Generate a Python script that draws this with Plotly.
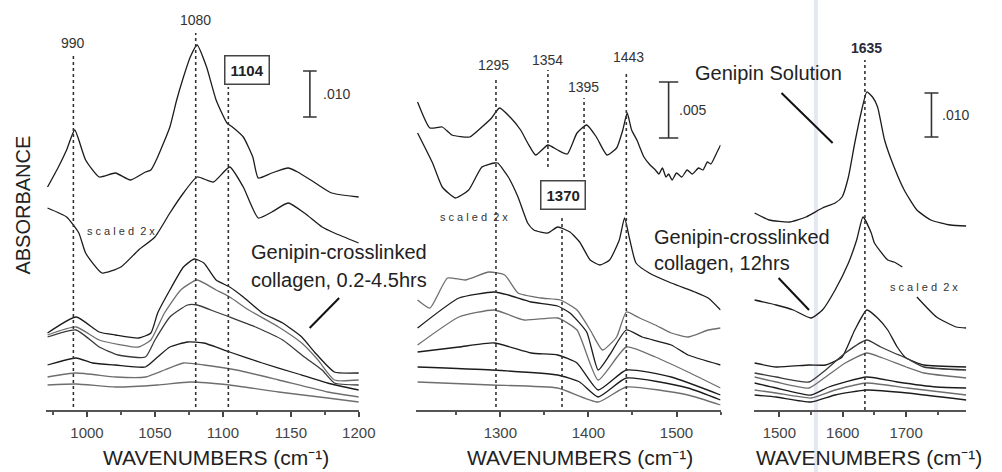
import plotly.graph_objects as go

W, H = 1002, 472
FONT = "Liberation Sans, Arial, sans-serif"

# ---------------- Panel 1 (970-1200 cm-1) ----------------
p1_wn_sol = [971,979,985,991,999,1009,1021,1032,1043,1047,1052,1061,1066,1071,1076,1081,1088,1095,1103,1107,1115,1122,1126,1136,1148,1155,1168,1180,1200]
p1_sol    = [223,243,260,280,250,233,237,230,238,240,253,283,310,333,353,365,343,310,287,283,273,253,232,237,242,238,227,217,213]
p1_wn_12h = [971,985,994,999,1011,1025,1038,1050,1061,1071,1081,1093,1105,1115,1126,1136,1148,1160,1173,1182,1200]
p1_12h    = [202,193,177,157,137,143,160,173,197,217,233,228,243,223,192,198,207,197,183,177,167]
p1_wn_a = [971,992,1009,1021,1038,1047,1052,1061,1071,1079,1086,1095,1105,1115,1129,1144,1158,1168,1182,1200]
p1_a    = [77,93,78,75,72,77,97,120,143,151,147,130,123,113,97,87,73,57,38,37]
p1_wn_b = [971,992,1009,1038,1047,1057,1069,1081,1095,1105,1119,1141,1158,1170,1182,1200]
p1_b    = [75,83,70,63,70,97,120,130,120,113,100,83,67,50,30,30]
p1_wn_c = [971,992,1009,1023,1043,1050,1061,1074,1081,1095,1105,1124,1144,1160,1173,1182,1200]
p1_c    = [73,80,63,55,53,70,93,105,105,98,93,83,70,53,40,27,25]
p1_wn_d = [971,992,1004,1021,1043,1052,1061,1074,1086,1105,1129,1153,1177,1200]
p1_d    = [45,52,47,45,43,53,63,68,67,58,47,37,27,20]
p1_wn_e = [971,992,1021,1043,1057,1071,1086,1110,1141,1177,1200]
p1_e    = [33,37,33,33,40,47,45,40,30,18,13]
p1_wn_f = [971,992,1021,1052,1076,1105,1141,1177,1200]
p1_f    = [25,26,23,25,28,25,18,12,8]
p1_peaks = [990, 1080, 1104]

# ---------------- Panel 2 (1204-1550 cm-1) ----------------
p2_wn_sol = [1206,1220,1234,1245,1265,1279,1290,1299,1312,1323,1331,1340,1354,1365,1376,1387,1398,1409,1421,1432,1439,1444,1449,1455,1463,1470,1476,1480,1484,1488,1491,1495,1500,1506,1512,1518,1525,1530,1535,1539,1545,1550]
p2_sol    = [308,282,283,275,273,283,292,302,292,280,267,255,265,260,256,277,285,273,255,262,280,297,280,270,253,245,240,236,242,233,236,230,237,233,240,236,242,240,248,246,256,265]
p2_wn_12h = [1206,1223,1234,1249,1264,1279,1293,1297,1309,1320,1331,1338,1354,1365,1379,1390,1402,1413,1424,1435,1441,1447,1454,1469,1494,1521,1536,1550]
p2_12h    = [277,247,223,212,220,243,247,247,233,213,187,180,177,183,178,168,150,145,150,170,192,170,147,137,127,118,112,100]
p2_wn_a = [1206,1220,1240,1260,1287,1305,1320,1346,1368,1387,1402,1416,1432,1443,1458,1476,1494,1513,1536,1550]
p2_a    = [110,102,132,130,138,135,117,112,110,100,80,60,73,98,92,85,77,73,80,82]
p2_wn_b = [1206,1253,1293,1309,1335,1365,1379,1398,1411,1424,1443,1461,1494,1513,1550]
p2_b    = [82,112,118,115,108,104,97,78,40,55,80,73,65,55,45]
p2_wn_c = [1206,1253,1293,1327,1365,1387,1411,1443,1476,1513,1550]
p2_c    = [65,93,100,90,92,80,30,63,53,38,22]
p2_wn_d = [1206,1253,1293,1335,1365,1387,1411,1443,1494,1550]
p2_d    = [58,63,67,57,55,47,20,40,33,15]
p2_wn_e = [1206,1290,1365,1390,1411,1443,1513,1550]
p2_e    = [43,40,35,28,13,32,22,10]
p2_wn_f = [1206,1290,1365,1411,1443,1513,1550]
p2_f    = [28,25,22,8,23,15,5]

# ---------------- Panel 3 (1460-1795 cm-1) ----------------
p3_wn_sol = [1461,1484,1516,1542,1568,1588,1599,1609,1619,1630,1638,1647,1655,1666,1681,1697,1717,1739,1770,1795]
p3_sol    = [197,190,188,193,202,207,213,233,267,300,318,313,303,270,243,220,200,190,185,184]
p3_wn_12h = [1461,1495,1522,1550,1568,1588,1609,1622,1632,1645,1650,1671,1681,1694,None,1717,1748,1779,1795]
p3_12h    = [110,105,100,92,100,120,147,170,193,177,167,150,148,143,None,113,93,83,82]
p3_wn_a = [1461,1495,1547,1573,1599,1619,1638,1655,1671,1686,1700,1728,1795]
p3_a    = [47,43,45,45,53,80,100,92,80,63,52,45,43]
p3_wn_b = [1461,1495,1547,1573,1604,1638,1660,1681,1700,1728,1795]
p3_b    = [37,33,28,40,57,70,63,57,52,43,40]
p3_wn_c = [1461,1495,1547,1573,1604,1638,1663,1700,1728,1795]
p3_c    = [33,28,22,33,47,57,52,43,37,32]
p3_wn_d = [1461,1495,1550,1578,1638,1686,1748,1795]
p3_d    = [27,22,15,23,33,28,23,22]
p3_wn_e = [1461,1495,1550,1588,1638,1702,1795]
p3_e    = [20,17,12,20,27,22,15]
p3_wn_f = [1461,1495,1550,1588,1638,1702,1795]
p3_f    = [15,13,8,15,20,17,10]

x_ranges = [[970, 1200], [1204, 1550], [1460, 1795]]
x_ticks = [[1000, 1050, 1100, 1150, 1200], [1300, 1400, 1500], [1500, 1600, 1700]]
x_minor = [25, 50, 50]
Y_RANGE = [0, 410]

BLACK = "#1c1c1c"
GRAY = "#6e6e6e"

def X(px):
    return px / W

def Y(py):
    return 1 - py / H

fig = go.Figure()

def add(xs, ys, axis, color, width=1.3):
    fig.add_trace(go.Scatter(
        x=xs, y=ys, mode="lines", xaxis="x" + axis, yaxis="y" + axis,
        line=dict(color=color, width=width, shape="spline", smoothing=0.5),
        connectgaps=False, hoverinfo="skip", showlegend=False))

# panel 1
add(p1_wn_sol, p1_sol, "", BLACK)
add(p1_wn_12h, p1_12h, "", BLACK)
for xs, ys, c in [(p1_wn_a, p1_a, BLACK), (p1_wn_b, p1_b, GRAY), (p1_wn_c, p1_c, "#3a3a3a"),
                  (p1_wn_d, p1_d, BLACK), (p1_wn_e, p1_e, GRAY), (p1_wn_f, p1_f, GRAY)]:
    add(xs, ys, "", c)
# panel 2
add(p2_wn_sol, p2_sol, "2", BLACK)
add(p2_wn_12h, p2_12h, "2", BLACK)
for xs, ys, c in [(p2_wn_a, p2_a, GRAY), (p2_wn_b, p2_b, BLACK), (p2_wn_c, p2_c, GRAY),
                  (p2_wn_d, p2_d, BLACK), (p2_wn_e, p2_e, BLACK), (p2_wn_f, p2_f, GRAY)]:
    add(xs, ys, "2", c)
# panel 3
add(p3_wn_sol, p3_sol, "3", BLACK)
add(p3_wn_12h, p3_12h, "3", BLACK)
for xs, ys, c in [(p3_wn_a, p3_a, BLACK), (p3_wn_b, p3_b, "#3a3a3a"), (p3_wn_c, p3_c, GRAY),
                  (p3_wn_d, p3_d, BLACK), (p3_wn_e, p3_e, GRAY), (p3_wn_f, p3_f, BLACK)]:
    add(xs, ys, "3", c)

shapes = []
annots = []

def vdot(x, y0, y1, ax):
    shapes.append(dict(type="line", xref="x" + ax, yref="y" + ax, x0=x, x1=x, y0=y0, y1=y1,
                       line=dict(color="#333", width=1.6, dash="dot")))

def label(x, y, text, ax, size=14, bold=False, box=False, color="#333"):
    t = "<b>%s</b>" % text if bold else text
    a = dict(x=x, y=y, xref="x" + ax, yref="y" + ax, text=t, showarrow=False,
             font=dict(family=FONT, size=size, color=color), xanchor="center", yanchor="middle")
    if box:
        a.update(bordercolor="#444", borderwidth=1.5, borderpad=5, bgcolor="white")
    annots.append(a)

def scalebar(x, y0, y1, half, text, tx, ax):
    for xa0, xa1, ya0, ya1 in [(x, x, y0, y1), (x - half, x + half, y0, y0), (x - half, x + half, y1, y1)]:
        shapes.append(dict(type="line", xref="x" + ax, yref="y" + ax, x0=xa0, x1=xa1, y0=ya0, y1=ya1,
                           line=dict(color="#333", width=1.6)))
    annots.append(dict(x=tx, y=(y0 + y1) / 2, xref="x" + ax, yref="y" + ax, text=text, showarrow=False,
                       xanchor="left", yanchor="middle", font=dict(family=FONT, size=14, color="#333")))

# panel 1 peak markers
vdot(p1_peaks[0], 3, 355, "")
vdot(p1_peaks[1], 3, 377, "")
vdot(p1_peaks[2], 3, 323, "")
label(990, 367, "990", "")
label(1080, 390, "1080", "")
label(1118, 340, "1104", "", size=15, bold=True, box=True, color="#222")
scalebar(1164, 293, 339, 5, ".010", 1172, "")

# panel 2 peak markers
vdot(1295, 3, 330, "2")
vdot(1354, 243, 340, "2")
vdot(1395, 233, 312, "2")
vdot(1443, 3, 338, "2")
vdot(1370, 3, 195, "2")
label(1292, 345, "1295", "2")
label(1354, 350, "1354", "2")
label(1394, 323, "1395", "2")
label(1445, 353, "1443", "2")
label(1371, 215, "1370", "2", size=15, bold=True, box=True, color="#222")
scalebar(1491, 272, 328, 11, ".005", 1500, "2")

# panel 3 peak markers
vdot(1635, 0, 350, "3")
label(1637, 362, "1635", "3", size=14, bold=True, color="#2a2a3a")
scalebar(1740, 273, 317, 11, ".010", 1754, "3")

# scanner stripe
shapes.append(dict(type="line", xref="paper", yref="paper", x0=X(830), x1=X(830), y0=0, y1=1,
                   line=dict(color="rgba(170,185,215,0.32)", width=4), layer="below"))

# pointer lines
for (a, b), (c, d) in [((795, 93), (847, 143)), ((792, 278), (823, 310)), ((345, 298), (315, 328))]:
    shapes.append(dict(type="line", xref="paper", yref="paper", x0=X(a), y0=Y(b), x1=X(c), y1=Y(d),
                       line=dict(color="#111", width=2)))

def ptext(px, py, text, size, xanchor="left", color="#222", angle=0):
    annots.append(dict(x=X(px), y=Y(py), xref="paper", yref="paper", text=text, showarrow=False,
                       xanchor=xanchor, yanchor="middle", textangle=angle, align="left",
                       font=dict(family=FONT, size=size, color=color)))

ptext(705, 73, "Genipin Solution", 20)
ptext(663, 237, "Genipin-crosslinked", 20)
ptext(663, 263, "collagen, 12hrs", 20)
ptext(253, 252, "Genipin-crosslinked", 20)
ptext(253, 280, "collagen, 0.2-4.5hrs", 20)
sc = "s c a l e d  2 x"
ptext(123, 231, sc, 11, "center", "#333")
ptext(482, 217, sc, 11, "center", "#333")
ptext(940, 287, sc, 11, "center", "#333")
ptext(23, 205, "ABSORBANCE", 20, "center", "#222", -90)
for cx in [220, 590, 884]:
    ptext(cx, 457, "WAVENUMBERS (cm\u207b\u00b9)", 21, "center", "#222")

doms = [[47, 365], [423, 733], [767, 983]]
layout = dict(width=W, height=H, margin=dict(l=0, r=0, t=0, b=0),
              paper_bgcolor="white", plot_bgcolor="white", showlegend=False,
              shapes=shapes, annotations=annots)
for i, key in enumerate(["", "2", "3"]):
    layout["xaxis" + key] = dict(
        domain=[doms[i][0] / W, doms[i][1] / W], range=x_ranges[i], anchor="y" + key,
        tickvals=x_ticks[i], ticks="outside", ticklen=5, tickwidth=1.5, tickcolor="#444",
        showline=True, linecolor="#555", linewidth=2, showgrid=False, zeroline=False,
        tickfont=dict(family=FONT, size=15, color="#444"), ticklabelstandoff=3,
        minor=dict(dtick=x_minor[i], tick0=0, ticks="outside", ticklen=3, tickcolor="#555", showgrid=False))
    layout["yaxis" + key] = dict(domain=[(H - 410) / H, 1], range=Y_RANGE, anchor="x" + key,
                                 visible=False, showgrid=False, zeroline=False)
fig.update_layout(**layout)
fig.write_html("out.html")
